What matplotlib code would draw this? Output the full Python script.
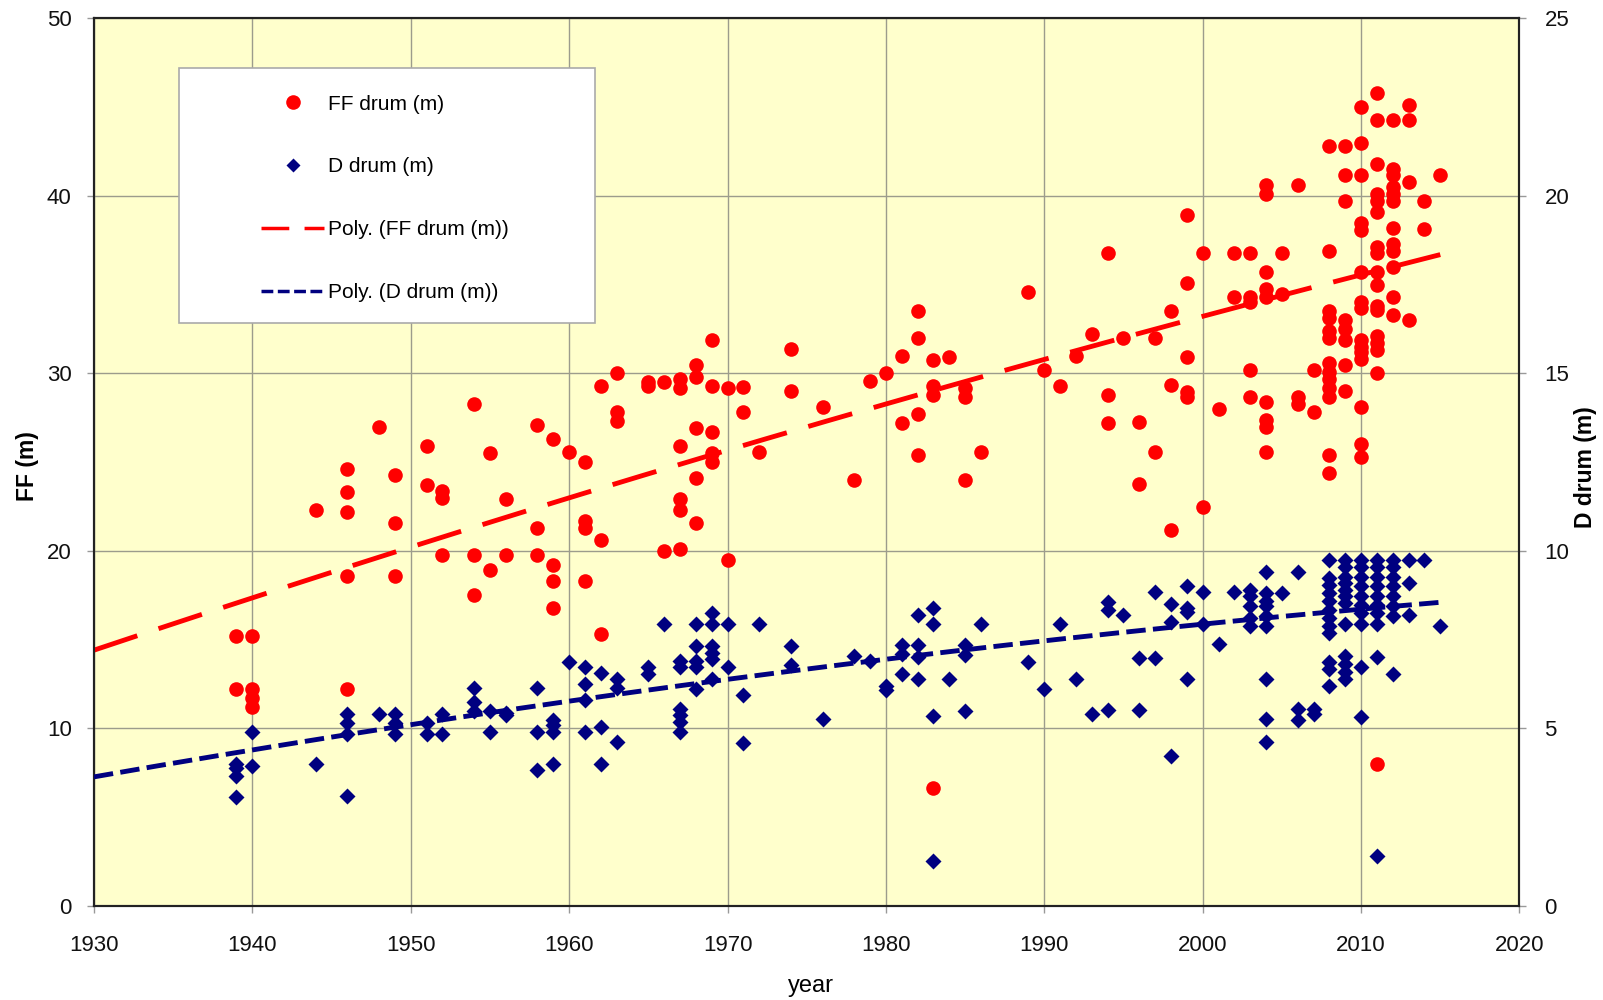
import numpy as np
import matplotlib.pyplot as plt
from matplotlib.lines import Line2D

plt.rcParams['font.family'] = ['Liberation Sans', 'DejaVu Sans']

# FF drum (m), left axis: year -> values
ff_years = [1939, 1940, 1944, 1946, 1948, 1949, 1951, 1952, 1954, 1955, 1956,
            1958, 1959, 1960, 1961, 1962, 1963, 1965, 1966, 1967, 1968, 1969,
            1970, 1971, 1972, 1974, 1976, 1978, 1979, 1980, 1981, 1982, 1983,
            1984, 1985, 1986, 1989, 1990, 1991, 1992, 1993, 1994, 1995, 1996,
            1997, 1998, 1999, 2000, 2001, 2002, 2003, 2004, 2005, 2006, 2007,
            2008, 2009, 2010, 2011, 2012, 2013, 2014, 2015]
ff_values = [
    [15.2, 12.2],
    [15.2, 12.2, 11.7, 11.2],
    [22.3],
    [24.6, 23.3, 22.2, 18.6, 12.2],
    [27.0],
    [24.3, 21.6, 18.6],
    [25.9, 23.7],
    [23.4, 23.0, 19.8],
    [28.3, 19.8, 17.5],
    [25.5, 18.9],
    [22.9, 19.8],
    [27.1, 21.3, 19.8],
    [26.3, 19.2, 18.3, 16.8],
    [25.6],
    [25.0, 21.7, 21.3, 18.3],
    [29.3, 20.6, 15.3],
    [30.0, 27.8, 27.3],
    [29.5, 29.3],
    [29.5, 20.0],
    [29.7, 29.2, 25.9, 22.9, 22.3, 20.1],
    [30.5, 29.8, 26.9, 24.1, 21.6],
    [31.9, 29.3, 26.7, 25.5, 25.0],
    [29.2, 19.5],
    [29.25, 27.8],
    [25.6],
    [31.4, 29.0],
    [28.1],
    [24.0],
    [29.6],
    [30.0],
    [31.0, 27.2],
    [33.5, 32.0, 27.7, 25.4],
    [30.75, 29.3, 28.8, 6.65],
    [30.9],
    [29.2, 28.7, 24.0],
    [25.6],
    [34.6],
    [30.2],
    [29.3],
    [31.0],
    [32.2],
    [36.8, 28.8, 27.2],
    [32.0],
    [27.25, 23.75],
    [32.0, 25.6],
    [33.5, 29.35, 21.2],
    [38.9, 35.1, 30.9, 28.95, 28.7],
    [36.8, 22.5],
    [28.0],
    [36.8, 34.3],
    [36.8, 34.3, 34.0, 30.2, 28.7],
    [40.6, 40.1, 35.7, 34.75, 34.3, 28.4, 27.4, 27.0, 25.6],
    [36.8, 34.5],
    [40.6, 28.7, 28.3],
    [30.2, 27.8],
    [42.8, 36.9, 33.5, 33.15, 32.4, 32.0, 30.6, 30.1, 29.7, 29.2, 28.7, 25.4, 24.4],
    [42.8, 41.2, 39.7, 33.0, 32.5, 31.9, 30.5, 29.0],
    [45.0, 43.0, 41.2, 38.5, 38.1, 35.7, 34.05, 33.7, 31.9, 31.5, 31.2, 30.8,
     28.1, 26.0, 25.3],
    [45.8, 44.25, 41.8, 40.1, 39.7, 39.1, 37.1, 36.8, 35.7, 35.0, 33.8, 33.6,
     32.1, 31.7, 31.3, 30.0, 8.0],
    [44.25, 41.5, 41.2, 40.5, 40.1, 39.7, 38.2, 37.3, 36.9, 36.0, 34.3, 33.3],
    [45.1, 44.25, 40.8, 33.0],
    [39.7, 38.15],
    [41.2],
]

# D drum (m), right axis
d_years = ff_years
d_values = [
    [4.0, 3.9, 3.65, 3.08],
    [4.9, 3.95],
    [4.0],
    [5.4, 5.15, 4.85, 3.1],
    [5.4],
    [5.4, 5.15, 4.85],
    [5.15, 4.85],
    [5.4, 4.85],
    [6.15, 5.75, 5.5],
    [5.5, 4.9],
    [5.45, 5.37],
    [6.13, 4.9, 3.84],
    [5.23, 5.09, 4.9, 4.0],
    [6.88],
    [6.72, 6.25, 5.79, 4.9],
    [6.56, 5.05, 4.0],
    [6.4, 6.15, 4.63],
    [6.72, 6.53],
    [7.93],
    [6.9, 6.72, 5.56, 5.37, 5.19, 4.9],
    [7.93, 7.32, 6.9, 6.72, 6.1],
    [8.25, 7.93, 7.32, 7.14, 6.95, 6.39],
    [7.93, 6.72],
    [5.95, 4.58],
    [7.93],
    [7.32, 6.8],
    [5.26],
    [7.04],
    [6.9],
    [6.2, 6.07],
    [7.35, 7.1, 6.54],
    [8.2, 7.35, 7.0, 6.4],
    [8.4, 7.93, 5.35, 1.27],
    [6.4],
    [7.35, 7.06, 5.5],
    [7.93],
    [6.87],
    [6.1],
    [7.93],
    [6.4],
    [5.42],
    [8.57, 8.34, 5.52],
    [8.2],
    [6.98, 5.52],
    [8.83, 6.98],
    [8.5, 8.0, 4.22],
    [9.0, 8.4, 8.28, 6.4],
    [8.83, 7.93],
    [7.38],
    [8.83],
    [8.9, 8.72, 8.44, 8.1, 7.88],
    [9.4, 8.81, 8.58, 8.44, 8.16, 7.88, 6.4, 5.28, 4.63],
    [8.81],
    [9.4, 5.55, 5.23],
    [5.55, 5.42],
    [9.74, 9.23, 9.04, 8.81, 8.58, 8.35, 8.1, 7.88, 7.7, 6.86, 6.67, 6.21],
    [9.74, 9.55, 9.27, 9.09, 8.9, 8.72, 8.53, 7.93, 7.05, 6.82, 6.6, 6.4],
    [9.74, 9.55, 9.27, 9.0, 8.72, 8.49, 8.25, 7.93, 6.72, 5.33],
    [9.74, 9.55, 9.27, 9.0, 8.72, 8.49, 8.25, 7.93, 7.0, 1.42],
    [9.74, 9.55, 9.27, 9.0, 8.72, 8.44, 8.16, 6.53],
    [9.74, 9.09, 8.2],
    [9.74],
    [7.9],
]

# trendline values (Excel order-2 "Poly." lines)
trend_years = [1930, 1950, 1970, 1990, 2010, 2015]
ff_trend = [14.4, 20.2, 25.8, 30.65, 35.6, 36.7]
d_trend = [3.63, 5.1, 6.44, 7.41, 8.35, 8.58]

ff_x = np.array([y for y, v in zip(ff_years, ff_values) for _ in v], float)
ff_y = np.array([a for v in ff_values for a in v])
d_x = np.array([y for y, v in zip(d_years, d_values) for _ in v], float)
d_y = np.array([a for v in d_values for a in v])

trend_x = np.linspace(1930, 2015, 200)
ff_fit = np.polynomial.Polynomial.fit(trend_years, ff_trend, 2)
d_fit = np.polynomial.Polynomial.fit(trend_years, d_trend, 2)

fig = plt.figure(figsize=(16.03, 10), dpi=100)
ax = fig.add_axes([0.0586, 0.094, 0.8893, 0.8876])
ax.set_facecolor('#FFFFCC')
ax2 = ax.twinx()

ax.plot(ff_x, ff_y, 'o', color='#FF0000', markersize=10.5, mec='none', zorder=3)
ax.plot(trend_x, ff_fit(trend_x), color='#FF0000', lw=3.5,
        dashes=(9.4, 4.6), zorder=4)
ax2.plot(d_x, d_y, 'D', color='#000080', markersize=8.0, mec='none', zorder=3)
ax2.plot(trend_x, d_fit(trend_x), color='#000080', lw=3.5,
         dashes=(4.0, 1.5), zorder=4)

ax.set_xlim(1930, 2020)
ax.set_ylim(0, 50)
ax2.set_ylim(0, 25)
ax.set_xticks(np.arange(1930, 2021, 10))
ax.set_yticks(np.arange(0, 51, 10))
ax2.set_yticks(np.arange(0, 26, 5))
ax.grid(True, color='#9c9c8c', lw=1.0)
ax.set_axisbelow(True)

for a in (ax, ax2):
    for s in a.spines.values():
        s.set_color('#222222')
        s.set_linewidth(1.5)
ax.tick_params(axis='x', length=5, width=1, color='#999999', pad=16,
               labelsize=16, labelcolor='#111111')
ax.tick_params(axis='y', length=5, width=1, color='#999999', pad=11,
               labelsize=16, labelcolor='#111111')
ax2.tick_params(axis='y', length=5, width=1, color='#999999', pad=13,
                labelsize=16, labelcolor='#111111')

fig.text(0.0172, 0.534, 'FF (m)', rotation=90, fontsize=16.5,
         fontweight='bold', ha='center', va='center')
fig.text(0.9888, 0.533, 'D drum (m)', rotation=90, fontsize=16.5,
         fontweight='bold', ha='center', va='center')
fig.text(0.506, 0.008, 'year', fontsize=17, ha='center', va='baseline')

# legend box
ax.add_patch(plt.Rectangle((0.0596, 0.657), 0.2919, 0.287, transform=ax.transAxes,
                           facecolor='white', edgecolor='#aaaaaa', lw=1.2,
                           zorder=5))
handles = [
    Line2D([], [], ls='none', marker='o', color='#FF0000', markersize=10.5, mec='none'),
    Line2D([], [], ls='none', marker='D', color='#000080', markersize=7.5, mec='none'),
    Line2D([], [], color='#FF0000', lw=2.5, dashes=(8, 4.4)),
    Line2D([], [], color='#000080', lw=2.5, dashes=(3.4, 1.3)),
]
leg = ax2.legend(handles,
                 ['FF drum (m)', 'D drum (m)', 'Poly. (FF drum (m))',
                  'Poly. (D drum (m))'],
                 loc='upper left', bbox_to_anchor=(0.1175, 0.914),
                 frameon=False, fontsize=15, numpoints=1, handlelength=3.0,
                 handletextpad=0.2, labelspacing=2.1, borderpad=0,
                 borderaxespad=0)
leg.set_zorder(6)
ax.set_zorder(1)
ax2.set_zorder(2)
ax2.patch.set_visible(False)

fig.savefig('out.png', dpi=100, facecolor='white')
